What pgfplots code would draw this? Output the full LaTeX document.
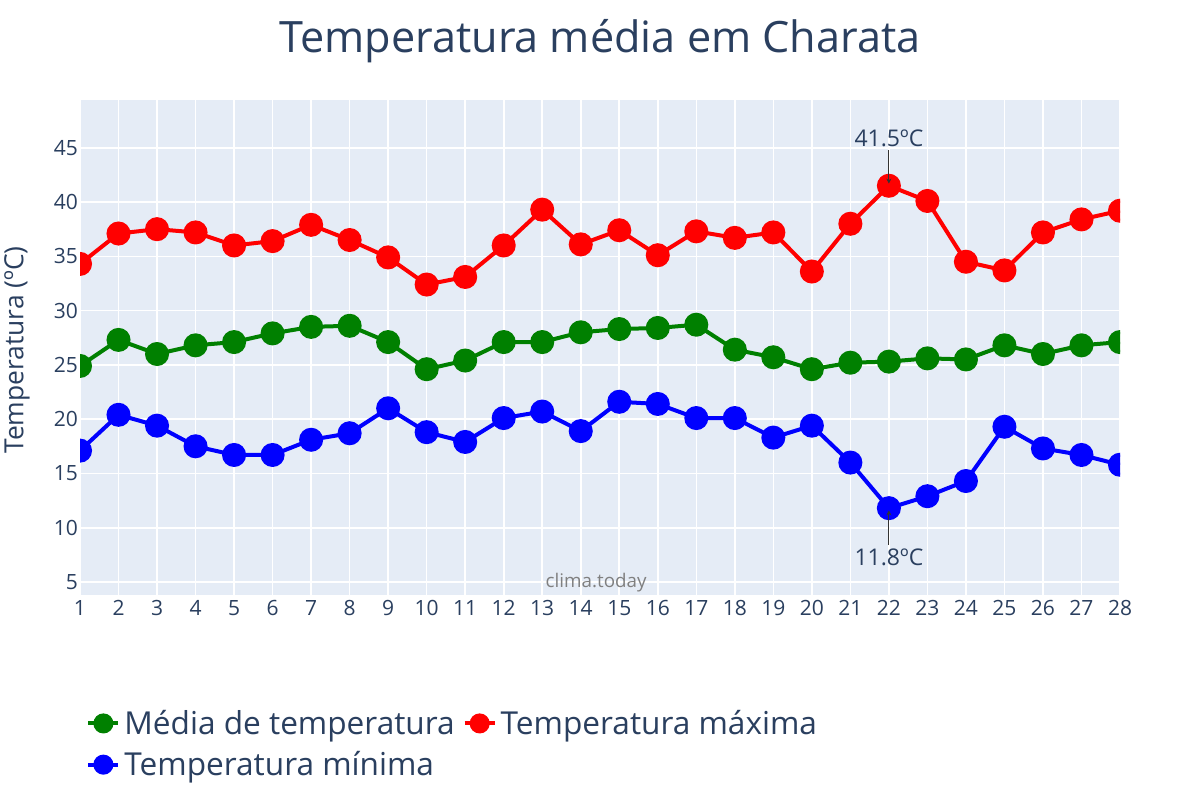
\documentclass[border=0pt]{standalone}
\usepackage{fontspec}
\setmainfont{Open Sans}
\usepackage{pgfplots}
\pgfplotsset{compat=1.18}
\usepackage{pgfplotstable}
\usetikzlibrary{arrows.meta}
\definecolor{plotbg}{HTML}{E5ECF6}
\definecolor{txt}{HTML}{2A3F5F}
\definecolor{cgreen}{HTML}{008000}
\definecolor{cred}{HTML}{FF0000}
\definecolor{cblue}{HTML}{0000FF}

\pgfplotstableread{
day tmax tmean tmin
1 34.3 24.9 17.1
2 37.1 27.3 20.4
3 37.5 26.0 19.4
4 37.2 26.8 17.5
5 36.0 27.1 16.7
6 36.4 27.9 16.7
7 37.9 28.5 18.1
8 36.5 28.6 18.7
9 34.9 27.1 21.0
10 32.4 24.6 18.8
11 33.1 25.4 17.9
12 36.0 27.1 20.1
13 39.3 27.1 20.7
14 36.1 28.0 18.9
15 37.4 28.3 21.6
16 35.1 28.4 21.4
17 37.3 28.7 20.1
18 36.7 26.4 20.1
19 37.2 25.7 18.3
20 33.6 24.6 19.4
21 38.0 25.2 16.0
22 41.5 25.3 11.8
23 40.1 25.6 12.9
24 34.5 25.5 14.3
25 33.7 26.8 19.3
26 37.2 26.0 17.3
27 38.4 26.8 16.7
28 39.2 27.1 15.8
}\temps

\begin{document}
\begin{tikzpicture}
% page = 1200x800 px at 0.5pt per px
\path[use as bounding box, fill=white] (-40pt,-102.5pt) rectangle (560pt,297.5pt);
\begin{axis}[
    at={(0,0)}, anchor=south west,
    scale only axis,
    width=520pt, height=247.5pt,
    xmin=1, xmax=28,
    ymin=3.8, ymax=49.4,
    xtick={1,...,28},
    ytick={5,10,...,45},
    clip marker paths=true,
    axis background/.style={fill=plotbg},
    axis line style={draw=none},
    major tick style={draw=none},
    grid=major,
    major grid style={white, line width=0.8pt},
    tick label style={font=\fontsize{10.5}{12}\selectfont, text=txt},
    /pgf/number format/assume math mode=true,
    xticklabel style={yshift=1pt},
    yticklabel style={xshift=2.5pt},
    legend style={at={(0.0,-0.215)}, anchor=north west, draw=none, fill=none,
        font=\fontsize{15.8}{18}\selectfont, text=txt,
        /tikz/every even column/.append style={column sep=2pt},
        row sep=3pt},
    legend columns=2,
    legend cell align=left,
    legend image code/.code={
        \draw[#1, line width=2pt] (0pt,0pt) -- (15pt,0pt);
        \fill[#1] (7.5pt,0pt) circle (4pt);
    },
]
\addplot[cgreen, line width=2pt, mark=*, mark size=5pt, mark options={fill=cgreen, draw=cgreen}] table[x=day, y=tmean] {\temps};
\addlegendentry{Média de temperatura}
\addplot[cred, line width=2pt, mark=*, mark size=5pt, mark options={fill=cred, draw=cred}] table[x=day, y=tmax] {\temps};
\addlegendentry{Temperatura máxima}
\addplot[cblue, line width=2pt, mark=*, mark size=5pt, mark options={fill=cblue, draw=cblue}] table[x=day, y=tmin] {\temps};
\addlegendentry{Temperatura mínima}

% annotations
\draw[black!80, line width=0.5pt, -{Stealth[length=2.5pt,width=2.5pt]}] (axis cs:22,44.8) -- (axis cs:22,41.7);
\node[anchor=south, font=\fontsize{11.5}{13}\selectfont, text=txt, inner sep=1pt] at (axis cs:22,44.9) {41.5ºC};
\draw[black!80, line width=0.5pt, -{Stealth[length=2.5pt,width=2.5pt]}] (axis cs:22,8.4) -- (axis cs:22,11.6);
\node[anchor=north, font=\fontsize{11.5}{13}\selectfont, text=txt, inner sep=1pt] at (axis cs:22,8.3) {11.8ºC};
\node[font=\fontsize{9.4}{11}\selectfont, text=black!50] at (axis cs:14.4,4.9) {clima.today};
\end{axis}
\node[rotate=90, font=\fontsize{13.2}{15}\selectfont, text=txt] at (-31.5pt,122.5pt) {Temperatura (ºC)};
\node[font=\fontsize{21.6}{25}\selectfont, text=txt] at (260pt,277pt) {Temperatura média em Charata};
\end{tikzpicture}
\end{document}
